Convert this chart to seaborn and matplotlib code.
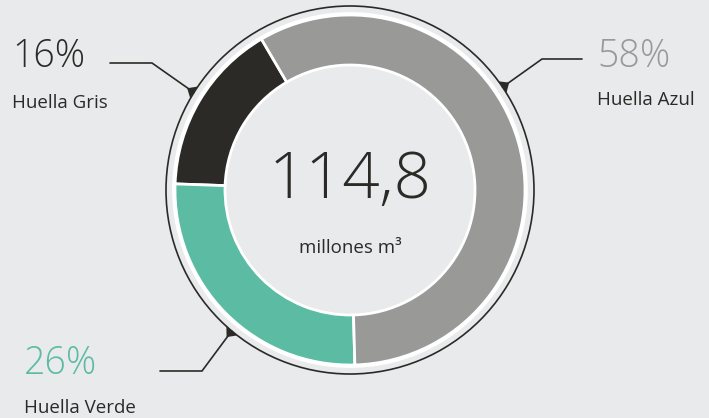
import numpy as np
import matplotlib.pyplot as plt
import seaborn as sns
from matplotlib.patches import Circle

# data
labels = ['Huella Gris', 'Huella Verde', 'Huella Azul']
values = [16, 26, 58]
pct_labels = ['16%', '26%', '58%']
colors = ['#2b2a27', '#5bbba3', '#999a98']
pct_colors = ['#2b2a27', '#5bbba3', '#999a98']
total_text = '114,8'
unit_text = 'millones m³'

sns.set_theme(style='white')
plt.rcParams['font.family'] = ['Open Sans', 'DejaVu Sans']

bg = '#e9eaec'
fig = plt.figure(figsize=(7.09, 4.18), dpi=100)
fig.patch.set_facecolor(bg)
ax = fig.add_axes([0, 0, 1, 1])
ax.set_facecolor(bg)

cx, cy = 350, 228
r_out, ring = 175, 50

# donut
ax.pie(values, colors=colors, startangle=120.4, counterclock=True,
       center=(cx, cy), radius=r_out,
       wedgeprops=dict(width=ring, edgecolor='white', linewidth=2))
ax.set_xlim(0, 709)
ax.set_ylim(0, 418)
ax.set_aspect('equal')
ax.axis('off')

ax.add_patch(Circle((cx, cy), r_out + 1.5, fill=False, ec='white', lw=2))
ax.add_patch(Circle((cx, cy), 184, fill=False, ec='#2b2a27', lw=1.2))

# callouts: angle on outline, elbow, end, text x
callouts = {
    'Huella Gris': dict(ang=148, elbow=(152, 355), end=(110, 355), tx=12),
    'Huella Azul': dict(ang=34, elbow=(542, 359), end=(582, 359), tx=597),
    'Huella Verde': dict(ang=230, elbow=(202, 47), end=(160, 47), tx=24),
}
text_y = {'Huella Gris': (361, 315), 'Huella Azul': (361, 318), 'Huella Verde': (54, 10)}

for lab, pct, pc in zip(labels, pct_labels, pct_colors):
    c = callouts[lab]
    a = np.radians(c['ang'])
    px, py = cx + 184 * np.cos(a), cy + 184 * np.sin(a)
    ax.plot([px, c['elbow'][0], c['end'][0]], [py, c['elbow'][1], c['end'][1]],
            color='#2b2a27', lw=1.2, solid_joinstyle='miter')
    # small fillet where the pointer meets the ring
    t = np.array([-np.sin(a), np.cos(a)])
    w = 7
    tip = (cx + 192 * np.cos(a), cy + 192 * np.sin(a))
    ax.fill([px + t[0] * w, tip[0], px - t[0] * w],
            [py + t[1] * w, tip[1], py - t[1] * w], color='#2b2a27', lw=0)
    ys = text_y[lab]
    ax.text(c['tx'], ys[0], pct, fontsize=27, fontweight='light', color=pc,
            ha='left', va='center')
    ax.text(c['tx'], ys[1], lab, fontsize=13.5, color='#2b2a27',
            ha='left', va='center')

ax.text(cx, 236, total_text, fontsize=47, fontweight='light', color='#2b2a27',
        ha='center', va='center')
ax.text(cx, 170, unit_text, fontsize=13.5, color='#2b2a27', ha='center', va='center')

fig.savefig('out.png', dpi=100, facecolor=bg)
